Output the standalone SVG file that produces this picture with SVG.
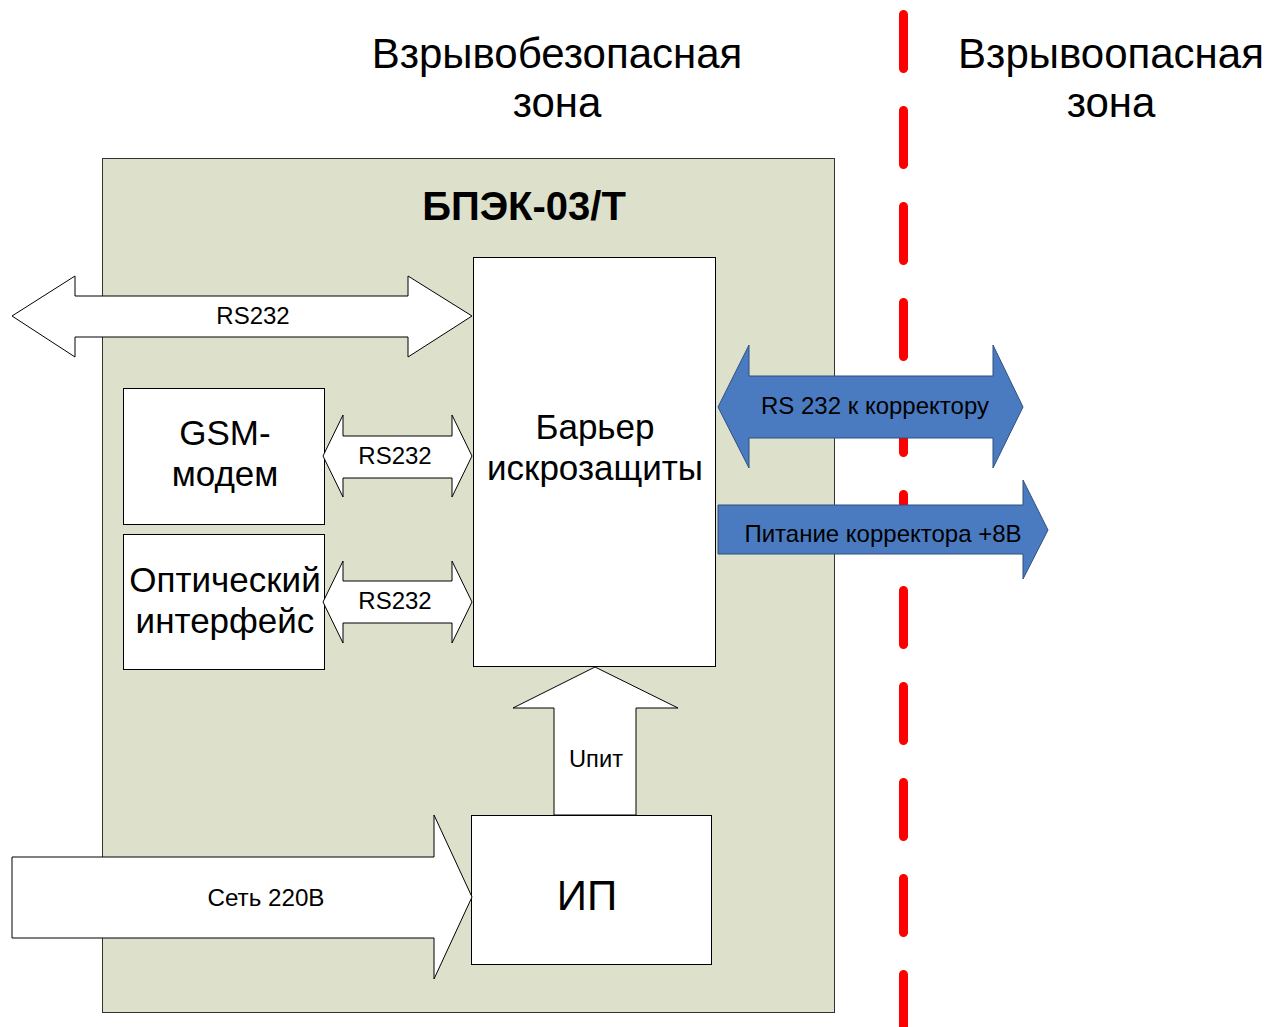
<svg xmlns="http://www.w3.org/2000/svg" width="1268" height="1027" viewBox="0 0 1268 1027">
<style>
text{font-family:"Liberation Sans",Arial,sans-serif;fill:#000;text-anchor:middle}
.box{fill:#fff;stroke:#000;stroke-width:1}
.wa{fill:#fff;stroke:#000;stroke-width:1;stroke-linejoin:miter}
.ba{fill:#4A7BC1;stroke:#2F4F80;stroke-width:1}
.zone{font-size:42px}
.blk{font-size:35px}
.lbl{font-size:24px}
</style>
<rect width="1268" height="1027" fill="#fff"/>
<g id="zones">
<text class="zone" x="557" y="68">Взрывобезопасная</text>
<text class="zone" x="557" y="117">зона</text>
<text class="zone" x="1111" y="68">Взрывоопасная</text>
<text class="zone" x="1111" y="117">зона</text>
</g>
<g id="bpek">
<rect x="102.5" y="158.5" width="732" height="854" fill="#DDE0CB" stroke="#333" stroke-width="1"/>
<text x="524" y="220" style="font-size:40px;font-weight:bold">БПЭК-03/Т</text>
</g>
<line id="boundary" x1="903.5" y1="14.5" x2="903.5" y2="1040" stroke="#FF0000" stroke-width="9" stroke-linecap="round" stroke-dasharray="54 42"/>
<g id="barrier">
<rect class="box" x="473.5" y="257.5" width="242" height="409"/>
<text class="blk" x="595" y="439">Барьер</text>
<text class="blk" x="595" y="480">искрозащиты</text>
</g>
<g id="gsm">
<rect class="box" x="123.5" y="388.5" width="201" height="136"/>
<text class="blk" x="225" y="445">GSM-</text>
<text class="blk" x="225" y="486">модем</text>
</g>
<g id="optical">
<rect class="box" x="123.5" y="534.5" width="201" height="135"/>
<text class="blk" x="225" y="592">Оптический</text>
<text class="blk" x="225" y="633">интерфейс</text>
</g>
<g id="ip">
<rect class="box" x="471.5" y="815.5" width="240" height="149"/>
<text x="587" y="910" style="font-size:42px">ИП</text>
</g>
<g id="connectors">
<polygon class="wa" points="12,316 75,276 75,296 408,296 408,276 472,316 408,357 408,337 75,337 75,357"/>
<text class="lbl" x="253" y="324">RS232</text>
<polygon class="wa" points="323,456 343,415 343,436 452,436 452,415 472,456 452,497 452,478 343,478 343,497"/>
<text class="lbl" x="395" y="464">RS232</text>
<polygon class="wa" points="323,602 343,561 343,581 452,581 452,561 472,602 452,643 452,623 343,623 343,643"/>
<text class="lbl" x="395" y="609">RS232</text>
<polygon class="ba" points="718,407 749,345 749,376 993,376 993,345 1023,407 993,468 993,438 749,438 749,468"/>
<text class="lbl" x="875" y="414">RS 232 к корректору</text>
<polygon class="ba" points="718,505 1023,505 1023,480 1048,530 1023,579 1023,554 718,554"/>
<text class="lbl" x="883" y="542">Питание корректора +8В</text>
<polygon class="wa" points="595,667 678,708 636,708 636,815 554,815 554,708 513,708"/>
<text class="lbl" x="596" y="767" textLength="54" lengthAdjust="spacingAndGlyphs">Uпит</text>
<polygon class="wa" points="12,857 434,857 434,815 472,897 434,979 434,938 12,938"/>
<text class="lbl" x="266" y="906" textLength="117" lengthAdjust="spacingAndGlyphs">Сеть 220В</text>
</g>
</svg>
